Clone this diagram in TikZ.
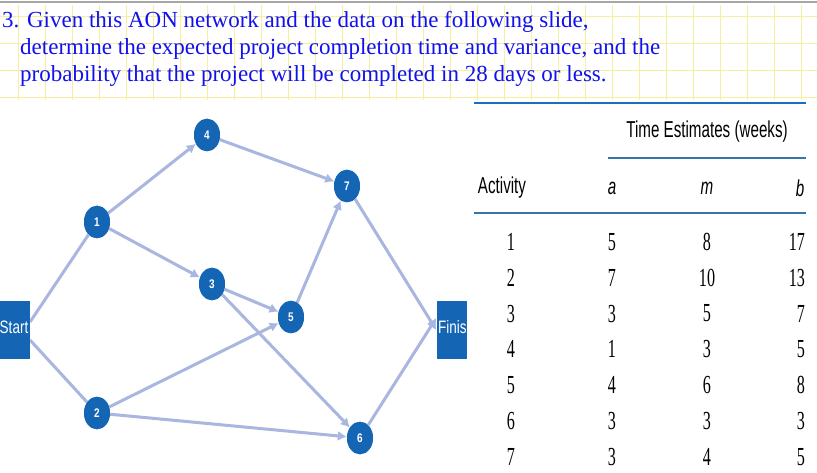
\documentclass[tikz,border=0pt]{standalone}
\usepackage{fontspec}
\setmainfont{Liberation Serif}
\setsansfont{Liberation Sans}
\usetikzlibrary{arrows.meta}
\definecolor{nodeblue}{HTML}{1565B5}
\definecolor{edgeblue}{HTML}{A8B6E0}
\definecolor{titleblue}{HTML}{1010F0}
\definecolor{rule}{HTML}{1A6FB8}
\definecolor{gridy}{HTML}{F4F0A0}
\tikzset{
  act/.style={circle,fill=nodeblue,minimum width=26pt,inner sep=0pt,yscale=1.25,text=white,font=\sffamily\bfseries\fontsize{10}{10}\selectfont},
  endbox/.style={fill=nodeblue,minimum width=30pt,minimum height=58pt,inner sep=0pt},
  edge/.style={draw=edgeblue,line width=3pt,-{Latex[length=9pt,width=10pt]}},
  edgen/.style={draw=edgeblue,line width=3pt},
  ttl/.style={anchor=base west,text=titleblue,font=\fontsize{23}{23}\selectfont,inner sep=0pt},
  hd/.style={font=\sffamily\fontsize{23}{23}\selectfont,xscale=0.66,inner sep=0pt},
  hdi/.style={font=\sffamily\itshape\fontsize{23}{23}\selectfont,xscale=0.66,inner sep=0pt},
  num/.style={font=\fontsize{26}{26}\selectfont,xscale=0.62,inner sep=0pt},
  endtxt/.style={text=white,font=\sffamily\fontsize{18}{18}\selectfont,xscale=0.75,inner sep=0pt}
}
\begin{document}
\begin{tikzpicture}[x=1pt,y=-1pt]
\useasboundingbox (0,0) rectangle (817,473);
\fill[white] (0,0) rectangle (817,473);
\foreach \x in {18,45,...,810} \draw[gridy,line width=0.6pt] (\x,5) -- (\x,100);
\foreach \y in {16,43,70,97} \draw[gridy,line width=0.6pt] (0,\y) -- (817,\y);
\draw[gray!70,line width=1.5pt] (0,2) -- (817,2);
\node[ttl] (t1) at (2,28) {3. Given this AON network and the data on the following slide,};
\node[ttl] (t2) at (20,55) {determine the expected project completion time and variance, and the};
\node[ttl] (t3) at (20,82) {probability that the project will be completed in 28 days or less.};
\node[endbox] (start) at (15,330) {};
\node[endbox] (finis) at (451.5,330) {};
\node[act] (n1) at (97,222) {1};
\node[act] (n4) at (207,135) {4};
\node[act] (n7) at (347,186) {7};
\node[act] (n3) at (212,284) {3};
\node[act] (n5) at (291,317) {5};
\node[act] (n2) at (97,413) {2};
\node[act] (n6) at (360,438) {6};
\coordinate (sa) at (30,322);
\coordinate (sb) at (30,340);
\draw[edgen] (sa) -- (n1);
\draw[edgen] (sb) -- (n2);
\draw[edge] (n1) -- (n4);
\draw[edge] (n1) -- (n3);
\draw[edge] (n4) -- (n7);
\draw[edge] (n3) -- (n5);
\draw[edge] (n3) -- (n6);
\draw[edge] (n2) -- (n5);
\draw[edge] (n2) -- (n6);
\draw[edge] (n5) -- (n7);
\draw[edge] (n7) -- (finis.west);
\draw[edge] (n6) -- ([yshift=12pt]finis.west);
\node[act] at (n1) {1};
\node[act] at (n4) {4};
\node[act] at (n7) {7};
\node[act] at (n3) {3};
\node[act] at (n5) {5};
\node[act] at (n2) {2};
\node[act] at (n6) {6};
\fill[nodeblue] (0,301) rectangle (30,359);
\fill[nodeblue] (437,301) rectangle (466,359);
\node[endtxt] (startt) at (14,327) {Start};
\begin{scope}
\clip (437,300) rectangle (466,360);
\node[endtxt,anchor=west] (finist) at (438,327) {Finis};
\end{scope}
\draw[rule,line width=2.5pt] (474,103) -- (806,103);
\node[hd] (th) at (707,132) {Time Estimates (weeks)};
\draw[rule!70!gray,line width=1.5pt] (608,158) -- (806,158);
\node[hd] (ha) at (502,188) {Activity};
\node[hdi] (hA) at (612,188) {a};
\node[hdi] (hM) at (707,188) {m};
\node[hdi] (hB) at (800,188) {b};
\draw[rule!70!gray,line width=1.5pt] (474,213) -- (806,213);
\foreach \i/\a/\m/\b [count=\k from 0] in {1/5/8/17,2/7/10/13,3/3/5/7,4/1/3/5,5/4/6/8,6/3/3/3,7/3/4/5}{
  \node[num] (r\k) at (511,{242+35.8*\k}) {\i};
  \node[num] (ra\k) at (612,{242+35.8*\k}) {\a};
  \node[num] (rm\k) at (707,{242+35.8*\k}) {\m};
  \node[num,anchor=east] (rb\k) at (805,{242+35.8*\k}) {\b};
}
\end{tikzpicture}
\end{document}
